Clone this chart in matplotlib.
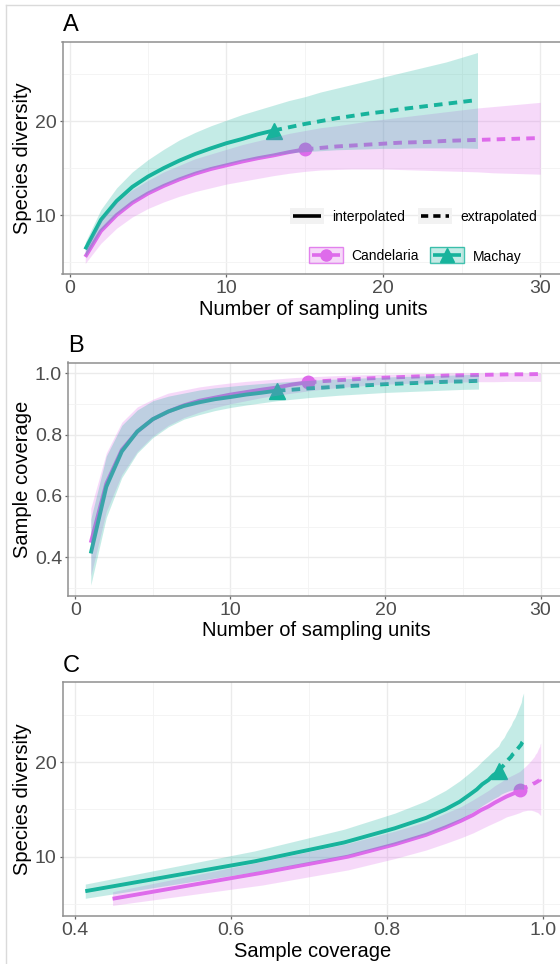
import matplotlib
matplotlib.use('Agg')
import matplotlib.pyplot as plt
from matplotlib.lines import Line2D
from matplotlib.patches import Rectangle
from matplotlib.ticker import FixedLocator, FormatStrFormatter

plt.rcParams['font.family'] = ['Liberation Sans', 'DejaVu Sans']

W, H = 560, 964

sites = ['Candelaria', 'Machay']
colors = ['#DE6BEB', '#17B39C']
markers = ['o', '^']
marker_sizes = [9, 11]
n_obs = [15, 13]

units_cand = list(range(1, 31))
units_mach = list(range(1, 27))

# species diversity (q = 0) with 95% CI
div_cand = [5.55, 8.3, 10.0, 11.3, 12.3, 13.1, 13.8, 14.4, 14.9, 15.3, 15.7, 16.05, 16.35, 16.7, 17.0,
            17.15, 17.3, 17.4, 17.5, 17.6, 17.7, 17.75, 17.8, 17.9, 17.95, 18.0, 18.05, 18.1, 18.15, 18.2]
div_cand_lo = [4.85, 7.0, 8.6, 9.8, 10.7, 11.4, 12.0, 12.5, 12.9, 13.3, 13.6, 13.9, 14.2, 14.45, 14.65,
               14.8, 14.85, 14.9, 14.9, 14.9, 14.85, 14.8, 14.75, 14.7, 14.65, 14.6, 14.5, 14.45, 14.4, 14.35]
div_cand_hi = [6.3, 9.5, 11.4, 12.7, 13.7, 14.6, 15.3, 16.0, 16.5, 17.0, 17.5, 17.9, 18.3, 18.7, 19.0,
               19.3, 19.5, 19.75, 20.0, 20.2, 20.4, 20.6, 20.8, 21.0, 21.2, 21.4, 21.55, 21.7, 21.85, 22.0]

div_mach = [6.35, 9.5, 11.5, 13.0, 14.1, 15.0, 15.8, 16.5, 17.1, 17.65, 18.1, 18.6, 19.0,
            19.35, 19.7, 20.0, 20.3, 20.55, 20.8, 21.0, 21.25, 21.45, 21.65, 21.85, 22.05, 22.25]
div_mach_lo = [5.6, 8.4, 10.1, 11.4, 12.4, 13.2, 13.9, 14.5, 15.0, 15.4, 15.8, 16.1, 16.4,
               16.6, 16.75, 16.85, 16.95, 17.0, 17.05, 17.1, 17.1, 17.15, 17.15, 17.15, 17.15, 17.1]
div_mach_hi = [7.1, 10.6, 12.9, 14.6, 15.9, 17.0, 18.0, 18.8, 19.5, 20.1, 20.7, 21.2, 21.7,
               22.2, 22.6, 23.1, 23.5, 23.9, 24.3, 24.7, 25.1, 25.5, 25.9, 26.3, 26.8, 27.3]

# sample coverage with 95% CI
cov_cand = [0.448, 0.64, 0.75, 0.81, 0.85, 0.875, 0.895, 0.91, 0.92, 0.93, 0.938, 0.946, 0.953, 0.963, 0.97,
            0.974, 0.977, 0.98, 0.983, 0.985, 0.987, 0.989, 0.99, 0.992, 0.993, 0.994, 0.995, 0.996, 0.996, 0.997]
cov_cand_lo = [0.34, 0.55, 0.67, 0.745, 0.795, 0.83, 0.855, 0.873, 0.888, 0.9, 0.91, 0.92, 0.928, 0.935, 0.942,
               0.948, 0.953, 0.957, 0.961, 0.964, 0.966, 0.968, 0.969, 0.97, 0.971, 0.972, 0.972, 0.973, 0.973, 0.973]
cov_cand_hi = [0.56, 0.74, 0.84, 0.89, 0.915, 0.935, 0.945, 0.955, 0.962, 0.968, 0.973, 0.977, 0.981, 0.985, 0.988,
               0.99, 0.992, 0.994, 0.995, 0.996, 0.997, 0.998, 0.999, 1.0, 1.0, 1.0, 1.0, 1.0, 1.0, 1.0]

cov_mach = [0.413, 0.63, 0.745, 0.81, 0.85, 0.875, 0.893, 0.905, 0.915, 0.922, 0.93, 0.936, 0.943,
            0.946, 0.95, 0.953, 0.956, 0.959, 0.961, 0.964, 0.966, 0.968, 0.97, 0.972, 0.973, 0.975]
cov_mach_lo = [0.31, 0.53, 0.66, 0.74, 0.79, 0.825, 0.85, 0.865, 0.878, 0.888, 0.896, 0.903, 0.91,
               0.915, 0.92, 0.924, 0.928, 0.931, 0.934, 0.937, 0.939, 0.941, 0.943, 0.945, 0.947, 0.948]
cov_mach_hi = [0.525, 0.73, 0.83, 0.88, 0.91, 0.925, 0.935, 0.945, 0.952, 0.957, 0.962, 0.966, 0.97,
               0.973, 0.976, 0.979, 0.981, 0.983, 0.985, 0.987, 0.989, 0.99, 0.992, 0.993, 0.995, 0.996]

units = [units_cand, units_mach]
div = [div_cand, div_mach]
div_lo = [div_cand_lo, div_mach_lo]
div_hi = [div_cand_hi, div_mach_hi]
cov = [cov_cand, cov_mach]
cov_lo = [cov_cand_lo, cov_mach_lo]
cov_hi = [cov_cand_hi, cov_mach_hi]


def fx(x):
    return x / W


def fy(y):
    return 1 - y / H


def add_axes(fig, left, top, right, bottom):
    return fig.add_axes([fx(left), fy(bottom), (right - left) / W, (bottom - top) / H])


def expand(lo, hi):
    d = (hi - lo) * 0.05
    return lo - d, hi + d


def style_axes(ax, xmaj, xmin, ymaj, ymin, xfmt, yfmt):
    for s in ax.spines.values():
        s.set_color('#8f8f8f')
        s.set_linewidth(1.1)
    ax.xaxis.set_major_locator(FixedLocator(xmaj))
    ax.xaxis.set_minor_locator(FixedLocator(xmin))
    ax.yaxis.set_major_locator(FixedLocator(ymaj))
    ax.yaxis.set_minor_locator(FixedLocator(ymin))
    ax.xaxis.set_major_formatter(FormatStrFormatter(xfmt))
    ax.yaxis.set_major_formatter(FormatStrFormatter(yfmt))
    ax.grid(which='major', color='#EBEBEB', lw=1.0)
    ax.grid(which='minor', color='#F3F3F3', lw=0.6)
    ax.set_axisbelow(True)
    ax.tick_params(which='major', length=2.3, width=0.9, color='#666666',
                   labelsize=14, labelcolor='#4D4D4D', pad=2.2)
    ax.tick_params(which='minor', length=0)


def draw_curves(ax, xs, ys, lows, highs):
    for i in range(2):
        t = n_obs[i]
        x, y = xs[i], ys[i]
        ax.plot(x[:t], y[:t], color=colors[i], lw=2.8, solid_capstyle='butt', zorder=2)
        ax.plot(x[t - 1:], y[t - 1:], color=colors[i], lw=2.8, ls=(0, (2.2, 1.6)),
                dash_capstyle='butt', zorder=2)
        ax.plot([x[t - 1]], [y[t - 1]], marker=markers[i], ms=marker_sizes[i],
                color=colors[i], mec=colors[i], ls='none', zorder=2)
    for i in range(2):
        ax.fill_between(xs[i], lows[i], highs[i], color=colors[i], alpha=0.25, lw=0, zorder=3)


fig = plt.figure(figsize=(W / 100, H / 100), dpi=100)

# outer frame
fig.add_artist(Line2D([fx(6), fx(6)], [0, fy(5)], color='#DADADA', lw=1.0))
fig.add_artist(Line2D([fx(6), 1], [fy(5), fy(5)], color='#DADADA', lw=1.0))

# ---- A: diversity vs sampling units
ax_a = add_axes(fig, 62.5, 42, 563, 274)
draw_curves(ax_a, units, div, div_lo, div_hi)
ax_a.set_xlim(expand(1, 30))
ax_a.set_ylim(expand(min(div_cand_lo + div_mach_lo), max(div_cand_hi + div_mach_hi)))
style_axes(ax_a, [0, 10, 20, 30], [5, 15, 25], [10, 20], [5, 15, 25], '%d', '%d')

# ---- B: coverage vs sampling units
ax_b = add_axes(fig, 68.3, 362.5, 563, 595.7)
draw_curves(ax_b, units, cov, cov_lo, cov_hi)
ax_b.set_xlim(expand(1, 30))
ax_b.set_ylim(expand(min(cov_cand_lo + cov_mach_lo), max(cov_cand_hi + cov_mach_hi)))
style_axes(ax_b, [0, 10, 20, 30], [5, 15, 25], [0.4, 0.6, 0.8, 1.0], [0.3, 0.5, 0.7, 0.9], '%d', '%.1f')

# ---- C: diversity vs coverage
ax_c = add_axes(fig, 62.5, 682.3, 563.5, 916)
draw_curves(ax_c, cov, div, div_lo, div_hi)
ax_c.set_xlim(expand(min(cov_cand + cov_mach), max(cov_cand + cov_mach)))
ax_c.set_ylim(expand(min(div_cand_lo + div_mach_lo), max(div_cand_hi + div_mach_hi)))
style_axes(ax_c, [0.4, 0.6, 0.8, 1.0], [0.5, 0.7, 0.9], [10, 20], [5, 15, 25], '%.1f', '%d')

# panel tags and axis titles
for tag, left, base in [('A', 63, 31), ('B', 68, 351.5), ('C', 63, 671.5)]:
    fig.text(fx(left), fy(base), tag, fontsize=17, ha='left', va='baseline')

fig.text(fx(313), fy(315), 'Number of sampling units', fontsize=14.5, ha='center', va='baseline')
fig.text(fx(316), fy(636.5), 'Number of sampling units', fontsize=14.5, ha='center', va='baseline')
fig.text(fx(313), fy(957), 'Sample coverage', fontsize=14.5, ha='center', va='baseline')

fig.text(fx(22.5), fy(158), 'Species diversity', fontsize=14.5, rotation=90, ha='center', va='center')
fig.text(fx(23), fy(479), 'Sample coverage', fontsize=14.5, rotation=90, ha='center', va='center')
fig.text(fx(22.5), fy(799), 'Species diversity', fontsize=14.5, rotation=90, ha='center', va='center')

# legend: line type
for x0, label, style in [(290, 'interpolated', '-'), (417.5, 'extrapolated', (0, (2.0, 1.4)))]:
    fig.add_artist(Rectangle((fx(x0), fy(224)), 34 / W, 16 / H, transform=fig.transFigure,
                             facecolor='#F2F2F2', edgecolor='none'))
    fig.add_artist(Line2D([fx(x0 + 3), fx(x0 + 31)], [fy(216), fy(216)], color='black',
                          lw=2.6, ls=style, solid_capstyle='butt', dash_capstyle='butt'))
    fig.text(fx(x0 + 42.5), fy(216), label, fontsize=10, ha='left', va='center_baseline')

# legend: sites
for i, x0 in enumerate([308.5, 430]):
    fig.add_artist(Rectangle((fx(x0), fy(263)), 34 / W, 16 / H, transform=fig.transFigure,
                             facecolor=colors[i], alpha=0.25, edgecolor='none'))
    fig.add_artist(Rectangle((fx(x0), fy(263)), 34 / W, 16 / H, transform=fig.transFigure,
                             facecolor='none', edgecolor=colors[i], lw=1.0, alpha=0.8))
    fig.add_artist(Line2D([fx(x0 + 3), fx(x0 + 31)], [fy(255), fy(255)], color=colors[i],
                          lw=2.6, solid_capstyle='butt'))
    fig.add_artist(Line2D([fx(x0 + 17)], [fy(255)], color=colors[i], marker=markers[i],
                          ms=marker_sizes[i] - 1, ls='none'))
    fig.text(fx(x0 + 43), fy(255), sites[i], fontsize=10, ha='left', va='center_baseline')

fig.savefig('out.png', dpi=100)
